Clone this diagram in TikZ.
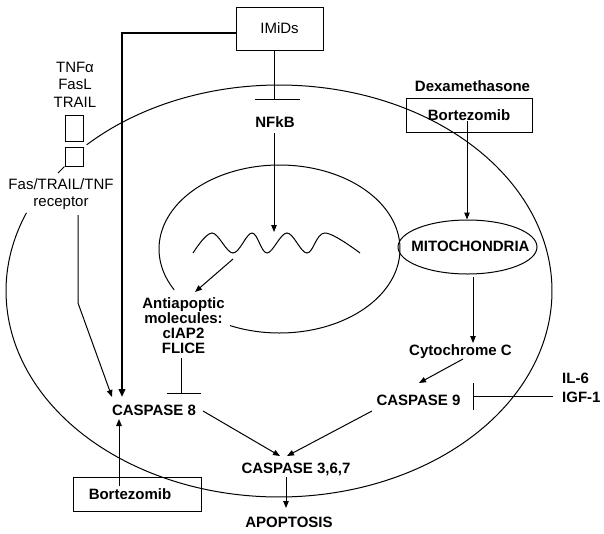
\documentclass[tikz,border=0pt]{standalone}
\usepackage{fontspec}
\setmainfont{Liberation Sans}
\usetikzlibrary{arrows.meta,shapes.geometric}
\begin{document}
\begin{tikzpicture}[x=1pt,y=-1pt,
  ln/.style={line width=1pt},
  arr/.style={line width=1pt,-{Triangle[length=7pt,width=5.5pt]}},
  thickarr/.style={line width=2.6pt,-{Triangle[length=8pt,width=6.5pt]}},
  lbl/.style={font=\fontsize{15}{15}\selectfont, inner sep=0pt, text height=10.8pt, text depth=0pt},
  blbl/.style={lbl, font=\fontsize{15}{15}\selectfont\bfseries},
  stack/.style={font=\fontsize{15}{#1}\selectfont, inner sep=0pt, anchor=north, align=center},
  bstack/.style={font=\fontsize{15}{#1}\selectfont\bfseries, inner sep=0pt, anchor=north, align=center},
  boxnode/.style={draw, line width=1pt, inner sep=0pt}]
\useasboundingbox (0,0) rectangle (604,533);

% cell membrane (outer ellipse, open at the receptor)
\draw[ln] plot[domain=157.7:494.8, samples=240, variable=\t] ({279+273*cos(\t)}, {291-206*sin(\t)});
% nucleus (open at the antiapoptic label)
\draw[ln] plot[domain=245.7:569, samples=200, variable=\t] ({279.5+120.5*cos(\t)}, {249-84*sin(\t)});
% DNA
\draw[ln] plot[smooth, tension=0.6] coordinates {(193,253) (212,233) (233,253) (252,233) (267,253) (287,233) (307,253) (325,233) (360,253)};

% nodes
\node[boxnode, lbl, minimum width=87pt, minimum height=43pt] (imids) at (279.5,28.5) {IMiDs};
\node[blbl] (nfkb) at (275,122) {NFkB};
\node[blbl] (dexa) at (472.5,86.5) {Dexamethasone};
\node[boxnode, blbl, minimum width=126pt, minimum height=34pt] (bortU) at (469,115) {Bortezomib};
\node[draw, ellipse, line width=1pt, minimum width=139pt, minimum height=54pt, inner sep=0pt] (mito) at (467.5,247) {};
\node[blbl] (mitotxt) at (470.5,246.5) {MITOCHONDRIA};
\node[blbl] (cyto) at (460.5,350.5) {Cytochrome C};
\node[blbl] (casp9) at (418.5,400.5) {CASPASE 9};
\node[bstack=19pt, anchor=north west, align=left] (il6) at (562,373) {IL-6\\IGF-1};
\node[blbl] (casp8) at (154,410.5) {CASPASE 8};
\node[blbl] (casp367) at (296,468.5) {CASPASE 3,6,7};
\node[blbl] (apop) at (289,522) {APOPTOSIS};
\node[blbl] (bortLtxt) at (130,494.5) {Bortezomib};
\draw[line width=1pt] (73,477) rectangle (201,511);
\node[bstack=15pt] (anti) at (183.5,297.5) {Antiapoptic\\molecules:\\cIAP2\\FLICE};
\node[stack=17.5pt] (ligands) at (75,61.5) {TNFα\\FasL\\TRAIL};
\node[boxnode, minimum width=18pt, minimum height=26pt] (ligbox) at (74,128) {};
\node[boxnode, minimum width=18pt, minimum height=19pt] (recbox) at (74,156.5) {};
\node[stack=16.5pt] (rec) at (61,178.5) {Fas/TRAIL/TNF\\receptor};

% coordinates for connector ends
\coordinate (imidsL) at (236,33);
\coordinate (imidsCorner) at (122,33);
\coordinate (c8inA) at (122,397);
\coordinate (imidsBar) at (274,99);
\coordinate (recStub) at (58,173);
\coordinate (recA) at (78,215);
\coordinate (recB) at (78,303);
\coordinate (c8inB) at (112,397);
\coordinate (c8inC) at (119,419);
\coordinate (bortLstart) at (119,486);
\coordinate (nfkbOut) at (274,133);
\coordinate (dnaIn) at (274,232);
\coordinate (dnaOut) at (233,259);
\coordinate (antiIn) at (195,292);
\coordinate (fliceOut) at (181,358);
\coordinate (fliceBar) at (181,393);
\coordinate (bortUstart) at (467,121);
\coordinate (mitoOut) at (473,277);
\coordinate (cytoIn) at (473,343);
\coordinate (cytoOut) at (463,359);
\coordinate (c9in) at (419,383);
\coordinate (ilOut) at (553,396);
\coordinate (c9bar) at (473,396);
\coordinate (c8out) at (203,411);
\coordinate (c9out) at (372,411);
\coordinate (c367inA) at (280,456);
\coordinate (c367inB) at (287,456);
\coordinate (c367out) at (286,477);
\coordinate (apopIn) at (286,508);

% connectors
\draw[thickarr] (imidsL) -- (imidsCorner) -- (c8inA);
\draw[ln] (imids.south -| imidsBar) -- (imidsBar);
\draw[ln] ([xshift=-19pt]imidsBar) -- ([xshift=26pt]imidsBar);
\draw[arr] (nfkbOut) -- (dnaIn);
\draw[arr] (dnaOut) -- (antiIn);
\draw[ln] (fliceOut) -- (fliceBar);
\draw[ln] ([xshift=-14pt]fliceBar) -- ([xshift=20pt]fliceBar);
\draw[ln] (recbox.south west) -- (recStub);
\draw[arr] (recA) -- (recB) -- (c8inB);
\draw[arr] (bortLstart) -- (c8inC);
\draw[arr] (bortUstart) -- (mito.north -| bortUstart);
\draw[arr] (mitoOut) -- (cytoIn);
\draw[arr] (cytoOut) -- (c9in);
\draw[ln] (ilOut) -- (c9bar);
\draw[ln] ([yshift=13pt]c9bar) -- ([yshift=-14pt]c9bar);
\draw[arr] (c8out) -- (c367inA);
\draw[arr] (c9out) -- (c367inB);
\draw[arr] (c367out) -- (apopIn);
\end{tikzpicture}
\end{document}
